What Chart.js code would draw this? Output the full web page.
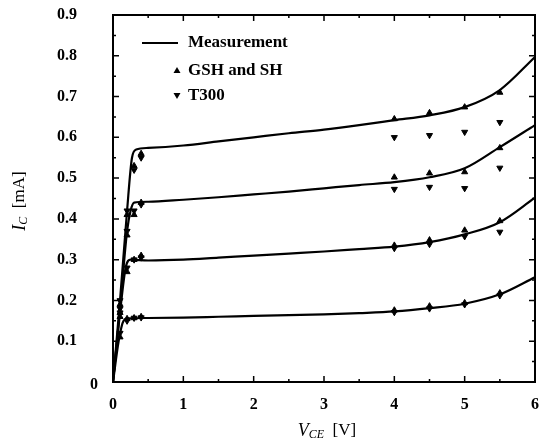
<!DOCTYPE html>
<html>
<head>
<meta charset="utf-8">
<script src="https://cdn.jsdelivr.net/npm/chart.js@4.4.1/dist/chart.umd.min.js"></script>
<style>
  html, body { margin: 0; padding: 0; background: #fff; }
  #wrap { width: 540px; height: 441px; }
</style>
</head>
<body>
<div id="wrap"><canvas id="chart" width="540" height="441"></canvas></div>
<script>
// Measurement curves (V_CE in V, I_C in mA)
const measV1 = [0, 0.1, 0.2, 0.27, 0.33, 0.5, 1, 1.5, 2, 2.5, 3, 3.5, 4, 4.5, 5, 5.5, 6];
const measI1 = [0, 0.2, 0.42, 0.55, 0.57, 0.574, 0.58, 0.59, 0.6, 0.61, 0.619, 0.63, 0.642, 0.654, 0.674, 0.716, 0.797];
const measV2 = [0, 0.1, 0.2, 0.25, 0.3, 0.5, 1, 1.5, 2, 2.5, 3, 3.5, 4, 4.5, 5, 5.5, 6];
const measI2 = [0, 0.18, 0.37, 0.42, 0.44, 0.442, 0.447, 0.453, 0.46, 0.467, 0.475, 0.483, 0.49, 0.502, 0.524, 0.576, 0.63];
const measV3 = [0, 0.1, 0.18, 0.25, 0.5, 1, 1.5, 2, 2.5, 3, 3.5, 4, 4.5, 5, 5.5, 6];
const measI3 = [0, 0.17, 0.28, 0.3, 0.298, 0.3, 0.305, 0.31, 0.315, 0.32, 0.326, 0.332, 0.343, 0.362, 0.392, 0.452];
const measV4 = [0, 0.08, 0.15, 0.22, 0.5, 1, 1.5, 2, 2.5, 3, 3.5, 4, 4.5, 5, 5.5, 6];
const measI4 = [0, 0.1, 0.15, 0.156, 0.157, 0.158, 0.16, 0.162, 0.164, 0.166, 0.169, 0.173, 0.181, 0.192, 0.215, 0.257];

// Simulated points
const markerV = [0.1, 0.2, 0.3, 0.4, 4, 4.5, 5, 5.5];
const gsh1 = [0.19, 0.41, 0.53, 0.56, 0.645, 0.66, 0.674, 0.71];
const gsh2 = [0.17, 0.36, 0.41, 0.44, 0.502, 0.512, 0.515, 0.574];
const gsh3 = [0.16, 0.27, 0.3, 0.31, 0.335, 0.348, 0.372, 0.395];
const gsh4 = [0.11, 0.155, 0.157, 0.16, 0.176, 0.186, 0.194, 0.218];
const t300_1 = [0.2, 0.42, 0.52, 0.55, 0.6, 0.605, 0.613, 0.637];
const t300_2 = [0.18, 0.37, 0.42, 0.435, 0.473, 0.478, 0.475, 0.525];
const t300_3 = [0.17, 0.28, 0.3, 0.305, 0.328, 0.338, 0.357, 0.368];
const t300_4 = [0.12, 0.15, 0.157, 0.158, 0.171, 0.18, 0.19, 0.212];

const xTicks = [0, 1, 2, 3, 4, 5, 6];
const yTicks = [0, 0.1, 0.2, 0.3, 0.4, 0.5, 0.6, 0.7, 0.8, 0.9];

const SERIF = '"Liberation Serif", "DejaVu Serif", serif';

function pts(xs, ys) {
    return xs.map((x, i) => ({ x: x, y: ys[i] }));
}

const datasets = [];
[[measV1, measI1], [measV2, measI2], [measV3, measI3], [measV4, measI4]].forEach(([v, i]) => {
    datasets.push({
        data: pts(v, i),
        showLine: true,
        borderColor: '#000',
        borderWidth: 2.2,
        pointRadius: 0,
        cubicInterpolationMode: 'monotone'
    });
});
[gsh1, gsh2, gsh3, gsh4].forEach(g => {
    datasets.push({
        data: pts(markerV, g),
        showLine: false,
        pointStyle: 'triangle',
        pointRadius: 3.5,
        backgroundColor: '#000',
        borderColor: '#000',
        borderWidth: 1
    });
});
[t300_1, t300_2, t300_3, t300_4].forEach(t => {
    datasets.push({
        data: pts(markerV, t),
        showLine: false,
        pointStyle: 'triangle',
        rotation: 180,
        pointRadius: 3.5,
        backgroundColor: '#000',
        borderColor: '#000',
        borderWidth: 1
    });
});

// draws a label with a subscript, centred on cx
function subLabel(ctx, main, sub, unit, cx, cy, size) {
    ctx.textAlign = 'left';
    ctx.textBaseline = 'middle';
    ctx.font = 'italic ' + size + 'px ' + SERIF;
    const w1 = ctx.measureText(main).width;
    ctx.font = 'italic ' + Math.round(size * 0.68) + 'px ' + SERIF;
    const w2 = ctx.measureText(sub).width;
    ctx.font = (size - 1) + 'px ' + SERIF;
    const w3 = ctx.measureText(unit).width;
    const x0 = cx - (w1 + w2 + w3) / 2;
    ctx.font = 'italic ' + size + 'px ' + SERIF;
    ctx.fillText(main, x0, cy);
    ctx.font = 'italic ' + Math.round(size * 0.68) + 'px ' + SERIF;
    ctx.fillText(sub, x0 + w1, cy + 4);
    ctx.font = (size - 1) + 'px ' + SERIF;
    ctx.fillText(unit, x0 + w1 + w2, cy);
}

// frame, ticks, titles and legend drawn on top
const decorations = {
    id: 'decorations',
    afterDraw(chart) {
        const ctx = chart.ctx;
        const a = chart.chartArea;
        const xs = chart.scales.x, ys = chart.scales.y;
        ctx.save();
        ctx.strokeStyle = '#000';
        ctx.fillStyle = '#000';

        // box
        ctx.lineWidth = 2;
        ctx.strokeRect(a.left, a.top, a.right - a.left, a.bottom - a.top);

        // ticks
        ctx.lineWidth = 1.5;
        ctx.beginPath();
        for (let v = 0; v <= 6.001; v += 0.5) {
            const px = xs.getPixelForValue(v);
            const len = Math.abs(v - Math.round(v)) < 0.01 ? 6 : 3;
            ctx.moveTo(px, a.bottom); ctx.lineTo(px, a.bottom - len);
            ctx.moveTo(px, a.top); ctx.lineTo(px, a.top + len);
        }
        for (let k = 0; k <= 18; k++) {
            const py = ys.getPixelForValue(k * 0.05);
            const len = k % 2 === 0 ? 6 : 3;
            ctx.moveTo(a.left, py); ctx.lineTo(a.left + len, py);
            ctx.moveTo(a.right, py); ctx.lineTo(a.right - len, py);
        }
        ctx.stroke();

        // lone "0" at the corner
        ctx.font = 'bold 16px ' + SERIF;
        ctx.textAlign = 'center';
        ctx.textBaseline = 'middle';
        ctx.fillText('0', 94, a.bottom + 3);

        // axis titles
        ctx.save();
        ctx.translate(20, 201);
        ctx.rotate(-Math.PI / 2);
        subLabel(ctx, 'I', 'C', '  [mA]', 0, 0, 18);
        ctx.restore();
        subLabel(ctx, 'V', 'CE', '  [V]', 327, 431, 18);

        // legend
        ctx.textAlign = 'left';
        ctx.textBaseline = 'middle';
        ctx.font = 'bold 17px ' + SERIF;
        ctx.lineWidth = 2;
        ctx.beginPath();
        ctx.moveTo(142, 43); ctx.lineTo(178, 43);
        ctx.stroke();
        ctx.fillText('Measurement', 188, 43);
        ctx.beginPath();
        ctx.moveTo(177, 67); ctx.lineTo(180.5, 73); ctx.lineTo(173.5, 73); ctx.closePath();
        ctx.fill();
        ctx.fillText('GSH and SH', 188, 71);
        ctx.beginPath();
        ctx.moveTo(177, 99); ctx.lineTo(180.5, 93); ctx.lineTo(173.5, 93); ctx.closePath();
        ctx.fill();
        ctx.fillText('T300', 188, 96);

        ctx.restore();
    }
};

new Chart(document.getElementById('chart'), {
    type: 'scatter',
    data: { datasets: datasets },
    options: {
        responsive: false,
        animation: false,
        devicePixelRatio: 1,
        layout: { padding: { top: 15, right: 3, left: 0, bottom: 0 } },
        plugins: {
            legend: { display: false },
            tooltip: { enabled: false }
        },
        scales: {
            x: {
                type: 'linear',
                min: 0,
                max: 6,
                afterBuildTicks: s => { s.ticks = xTicks.map(v => ({ value: v })); },
                afterFit: s => { s.height = 59; s.paddingLeft = 0; s.paddingRight = 0; },
                grid: { display: false, drawTicks: false },
                border: { display: false },
                ticks: {
                    color: '#000',
                    padding: 13,
                    font: { family: SERIF, size: 16, weight: 'bold' }
                }
            },
            y: {
                type: 'linear',
                min: 0,
                max: 0.9,
                afterBuildTicks: s => { s.ticks = yTicks.map(v => ({ value: v })); },
                afterFit: s => { s.width = 113; s.paddingTop = 0; s.paddingBottom = 0; },
                grid: { display: false, drawTicks: false },
                border: { display: false },
                ticks: {
                    color: '#000',
                    padding: 36,
                    font: { family: SERIF, size: 16, weight: 'bold' },
                    callback: v => (v === 0 ? '' : v.toFixed(1))
                }
            }
        }
    },
    plugins: [decorations]
});
</script>
</body>
</html>
